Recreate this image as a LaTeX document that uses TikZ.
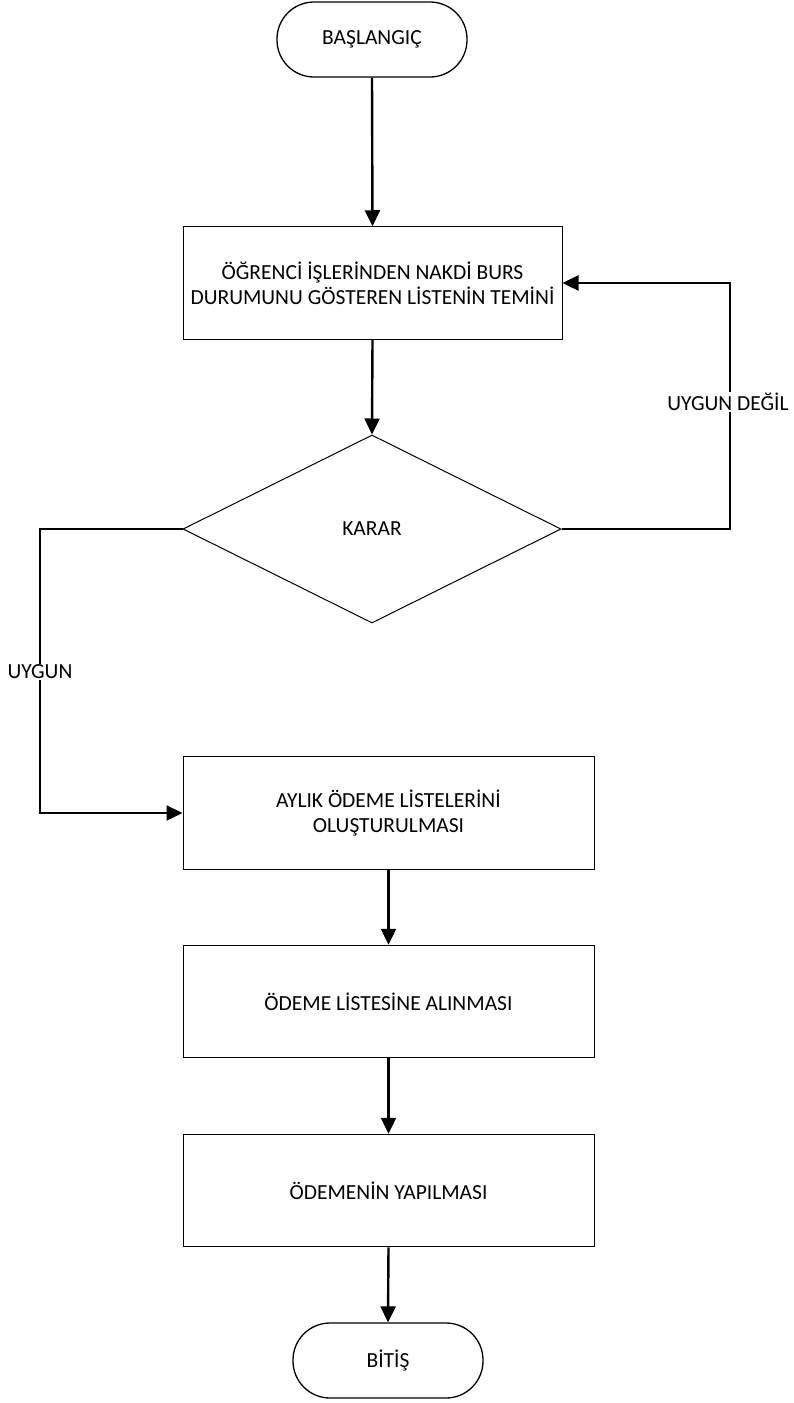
\documentclass[tikz,border=0pt]{standalone}
\usepackage{fontspec}
\setmainfont{Carlito}
\usetikzlibrary{shapes.geometric,arrows.meta}
\begin{document}
\begin{tikzpicture}[x=1pt,y=-1pt,
  every node/.style={font=\fontsize{21.5}{25}\selectfont, align=center, inner sep=0pt},
  term/.style={draw, line width=1.3pt, rounded corners=37pt, minimum width=190pt, minimum height=75pt},
  procbox/.style={draw, line width=1pt, minimum height=112.5pt},
  decide/.style={draw, diamond, line width=1pt, minimum width=378pt, minimum height=188pt},
  conn/.style={line width=2.4pt, -{Triangle[length=16pt,width=15pt]}},
  lbl/.style={fill=white, inner sep=1pt}
]
\useasboundingbox (0,0) rectangle (793,1403);
\node[term] (start) at (372,39.5) {BAŞLANGIÇ};
\node[procbox, minimum width=379pt] (b1) at (372.5,283) {ÖĞRENCİ İŞLERİNDEN NAKDİ BURS\\DURUMUNU GÖSTEREN LİSTENİN TEMİNİ};
\node[decide] (dia) at (372,529) {KARAR};
\node[procbox, minimum width=411pt] (b2) at (388.5,813) {AYLIK ÖDEME LİSTELERİNİ\\OLUŞTURULMASI};
\node[procbox, minimum width=411pt] (b3) at (388.5,1001.5) {ÖDEME LİSTESİNE ALINMASI};
\node[procbox, minimum width=411pt] (b4) at (388.5,1190.5) {ÖDEMENİN YAPILMASI};
\node[term] (end) at (388,1360.5) {BİTİŞ};
\coordinate (lc) at (40,529);
\coordinate (rc) at (730,529);
\draw[conn] (start.south) -- (b1.north);
\draw[conn] (b1.south) -- (dia.north);
\draw[conn] (dia.west) -- (lc) |- (b2.west);
\draw[conn] (dia.east) -- (rc) |- (b1.east);
\draw[conn] (b2.south) -- (b3.north);
\draw[conn] (b3.south) -- (b4.north);
\draw[conn] (b4.south) -- (end.north);
\node[lbl] (l1) at (40,672) {UYGUN};
\node[lbl] (l2) at (728,402) {UYGUN DEĞİL};
\end{tikzpicture}
\end{document}
